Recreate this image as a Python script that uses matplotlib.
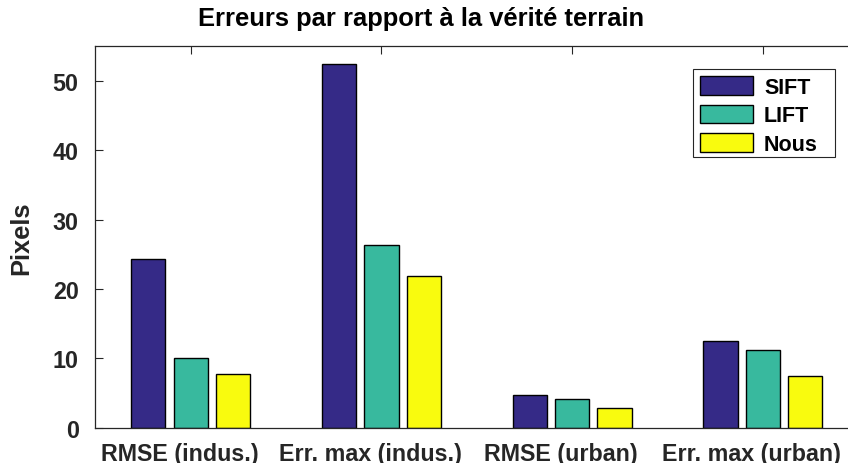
import numpy as np
import matplotlib
matplotlib.use("Agg")
import matplotlib.pyplot as plt
import matplotlib.transforms as mtransforms
from matplotlib.patches import Rectangle

# Données
categories = ["RMSE (indus.)", "Err. max (indus.)", "RMSE (urban)", "Err. max (urban)"]
methods = ["SIFT", "LIFT", "Nous"]
sift = [24.3, 52.5, 4.7, 12.5]
lift = [10.0, 26.3, 4.1, 11.2]
nous = [7.8, 21.9, 2.9, 7.5]
colors = ["#352a87", "#38b99e", "#f9fb0e"]

plt.rcParams["font.family"] = ["Liberation Sans", "DejaVu Sans"]
plt.rcParams["font.weight"] = "bold"

fig = plt.figure(figsize=(8.48, 4.64), dpi=100)
# l'axe dépasse un peu à droite (coupé comme l'original)
ax = fig.add_axes([95.3 / 848, 35.3 / 464, 763 / 848, 381.4 / 464])

x = np.arange(1, len(categories) + 1)
step = 0.222
width = 0.18
for i, (vals, name) in enumerate(zip([sift, lift, nous], methods)):
    ax.bar(x + (i - 1) * step, vals, width, color=colors[i], edgecolor="black",
           linewidth=1.0, label=name, zorder=2)

ax.set_xlim(0.5, 4.5)
ax.set_ylim(0, 55)
ax.set_yticks([0, 10, 20, 30, 40, 50])
ax.set_xticks(x)
ax.set_xticklabels(categories)
ax.tick_params(axis="both", direction="in", length=5.5, width=0.8, colors="#262626",
               labelsize=16.75, top=True, right=True)
ax.tick_params(axis="x", pad=10)
ax.tick_params(axis="y", pad=12)
shift = mtransforms.ScaledTranslation(-11 / 100, 0, fig.dpi_scale_trans)
for lbl in ax.get_xticklabels():
    lbl.set_fontweight("bold")
    lbl.set_transform(lbl.get_transform() + shift)
for lbl in ax.get_yticklabels():
    lbl.set_fontweight("bold")
for s in ax.spines.values():
    s.set_color("#262626")
    s.set_linewidth(0.9)

ax.set_ylabel("Pixels", fontsize=18.4, fontweight="bold", color="#262626", labelpad=14)
fig.text(421 / 848, 0.985, "Erreurs par rapport à la vérité terrain", ha="center", va="top",
         fontsize=18.4, fontweight="bold", color="black")

# légende sans cadre + cadre dessiné à part (marge droite plus large, style MATLAB)
leg_x0, leg_x1, leg_y0, leg_y1 = 0.7837, 0.969, 0.709, 0.9405
ax.add_patch(Rectangle((leg_x0, leg_y0), leg_x1 - leg_x0, leg_y1 - leg_y0,
                       transform=ax.transAxes, facecolor="white", edgecolor="#262626",
                       linewidth=0.8, zorder=4))
leg = ax.legend(loc="upper left", bbox_to_anchor=(leg_x0, leg_y1), borderaxespad=0,
                prop={"weight": "bold", "size": 15.5}, frameon=False,
                handlelength=2.46, handleheight=0.96, labelspacing=0.31,
                handletextpad=0.5, borderpad=0.33)
leg.set_zorder(5)

fig.savefig("out.png", dpi=100)
